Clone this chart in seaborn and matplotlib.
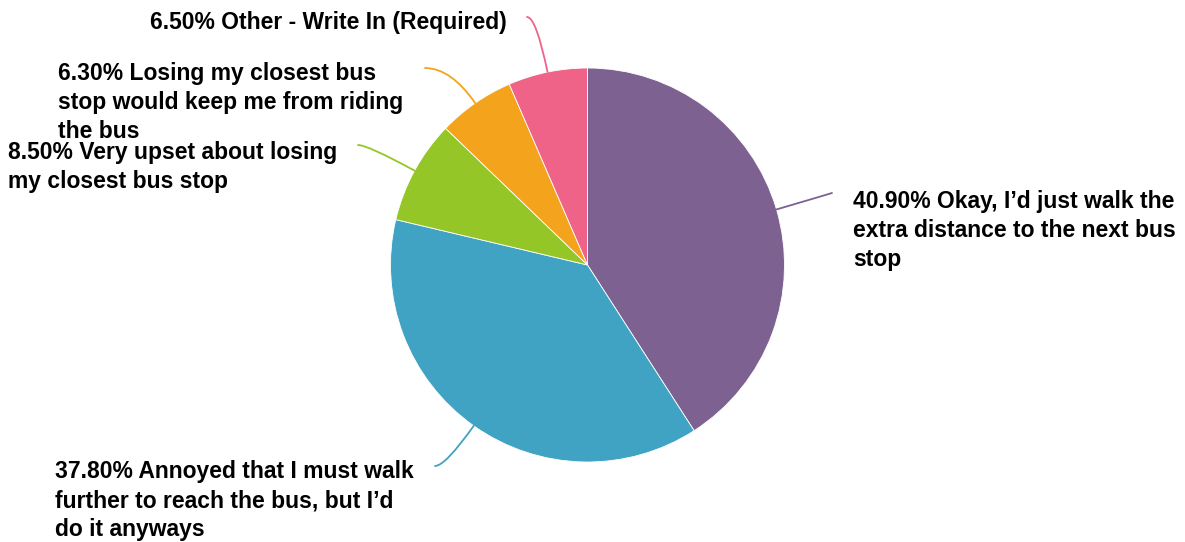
import matplotlib
matplotlib.use("Agg")
import matplotlib.pyplot as plt
import seaborn as sns
import numpy as np

# survey answers, clockwise from 12 o'clock
labels = [
    "40.90% Okay, I\u2019d just walk the\nextra distance to the next bus\nstop",
    "37.80% Annoyed that I must walk\nfurther to reach the bus, but I\u2019d\ndo it anyways",
    "8.50% Very upset about losing\nmy closest bus stop",
    "6.30% Losing my closest bus\nstop would keep me from riding\nthe bus",
    "6.50% Other - Write In (Required)",
]
shares = [40.9, 37.8, 8.5, 6.3, 6.5]
colors = ["#7D6291", "#40A3C3", "#95C628", "#F4A41C", "#EF6388"]

# layout (pixel coords, y down)
center = (587.5, 265)
radius = 197
line_ends = [(832, 193), (435, 466), (358, 145), (425, 68), (527, 17)]
text_pos = [(853, 190), (55, 460), (8, 141), (58, 62), (150, 11)]

sns.set_theme(style="white")
plt.rcParams["font.family"] = ["Liberation Sans", "DejaVu Sans"]

fig = plt.figure(figsize=(11.85, 5.42), dpi=100)
ax = fig.add_axes([0, 0, 1, 1])

wedges, _ = ax.pie(shares, colors=colors, center=center, radius=radius,
                   startangle=-90, counterclock=True,
                   wedgeprops=dict(edgecolor="white", linewidth=0.6))
ax.set_xlim(0, 1185)
ax.set_ylim(542, 0)
ax.set_aspect("equal")
ax.axis("off")

for w, lab, c, end, tp in zip(wedges, labels, colors, line_ends, text_pos):
    mid = np.deg2rad((w.theta1 + w.theta2) / 2)
    edge = (center[0] + radius * np.cos(mid), center[1] + radius * np.sin(mid))
    ax.annotate("", xy=edge, xytext=end,
                arrowprops=dict(arrowstyle="-", color=c, lw=1.3,
                                shrinkA=0, shrinkB=0,
                                connectionstyle=f"angle3,angleA=0,angleB={-np.rad2deg(mid)}"))
    ax.text(tp[0], tp[1], lab, ha="left", va="top", fontsize=16.5,
            fontweight="bold", color="black", linespacing=1.34)

fig.savefig("out.png", dpi=100)
